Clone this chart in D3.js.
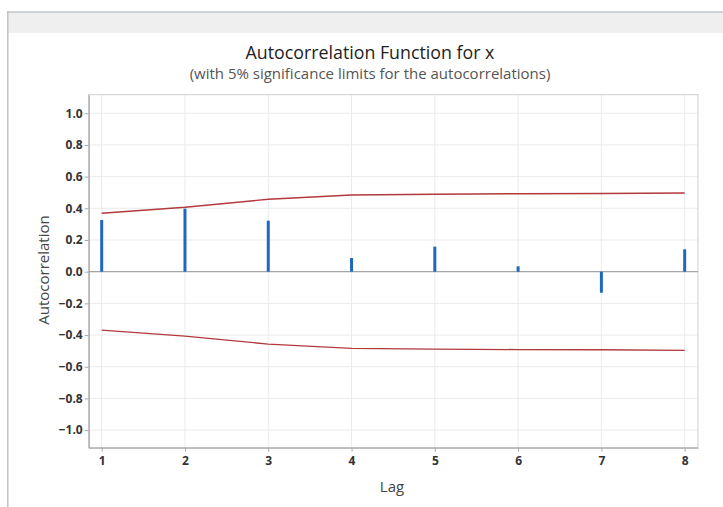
<!DOCTYPE html>
<html>
<head>
<meta charset="utf-8">
<script src="https://cdn.jsdelivr.net/npm/d3@7"></script>
<style>
  body { margin: 0; background: #fff; }
  svg { display: block; font-family: "Open Sans", "Noto Sans", sans-serif; }
</style>
</head>
<body>
<script>
var width = 723;
var height = 507;

// lag values and autocorrelations
var lags = [1, 2, 3, 4, 5, 6, 7, 8];
var acf = [0.326, 0.398, 0.322, 0.086, 0.158, 0.034, -0.133, 0.141];
// 5% significance limits (upper; lower is the negative)
var limits = [0.369, 0.407, 0.457, 0.484, 0.489, 0.492, 0.493, 0.497];
var yTicks = [-1.0, -0.8, -0.6, -0.4, -0.2, 0.0, 0.2, 0.4, 0.6, 0.8, 1.0];

var svg = d3.select("body").append("svg")
    .attr("width", width)
    .attr("height", height);

// window frame
svg.append("rect").attr("x", 0).attr("y", 0).attr("width", width).attr("height", height).attr("fill", "#ffffff");
svg.append("rect").attr("x", 8).attr("y", 12).attr("width", width - 8).attr("height", 21).attr("fill", "#efefef");
svg.append("line").attr("x1", 7).attr("x2", width).attr("y1", 12).attr("y2", 12)
    .attr("stroke", "#c3c7cb").attr("stroke-width", 1.6);
svg.append("line").attr("x1", 7.8).attr("x2", 7.8).attr("y1", 11).attr("y2", height)
    .attr("stroke", "#c3c7cb").attr("stroke-width", 1.6);

// plot area edges (not named "top": that clashes with window.top)
var pLeft = 88.7, pRight = 698, pTop = 94.7, pBottom = 447.7;

var x = d3.scaleLinear().domain([0.844, 8.16]).range([pLeft, pRight]);
var y = d3.scaleLinear().domain([-1.111, 1.117]).range([pBottom, pTop]);

// gridlines
svg.append("g").selectAll("line").data(yTicks).enter().append("line")
    .attr("x1", pLeft).attr("x2", pRight)
    .attr("y1", function(d) { return y(d); }).attr("y2", function(d) { return y(d); })
    .attr("stroke", "#ebebeb").attr("stroke-width", 1);
svg.append("g").selectAll("line").data(lags).enter().append("line")
    .attr("y1", pTop).attr("y2", pBottom)
    .attr("x1", function(d) { return x(d); }).attr("x2", function(d) { return x(d); })
    .attr("stroke", "#ebebeb").attr("stroke-width", 1);

// plot box
svg.append("rect").attr("x", pLeft).attr("y", pTop).attr("width", pRight - pLeft).attr("height", pBottom - pTop)
    .attr("fill", "none").attr("stroke", "#cfcfcf");

// zero line
svg.append("line").attr("x1", pLeft).attr("x2", pRight).attr("y1", y(0)).attr("y2", y(0))
    .attr("stroke", "#a6a6a6").attr("stroke-width", 1.2);

// axes
var yAxis = svg.append("g").attr("transform", "translate(" + pLeft + ",0)")
    .call(d3.axisLeft(y).tickValues(yTicks).tickFormat(d3.format(".1f")).tickSize(4).tickSizeOuter(0));
var xAxis = svg.append("g").attr("transform", "translate(0," + pBottom + ")")
    .call(d3.axisBottom(x).tickValues(lags).tickFormat(d3.format("d")).tickSize(4).tickSizeOuter(0));

[yAxis, xAxis].forEach(function(a) {
  a.select(".domain").attr("stroke", "#aaaaaa").attr("stroke-width", 1.3);
  a.selectAll(".tick line").attr("stroke", "#aaaaaa");
  a.selectAll(".tick text").attr("fill", "#333").attr("font-size", "12px").attr("font-weight", "bold")
      .attr("font-family", "'Open Sans', sans-serif");
});
yAxis.selectAll(".tick text").attr("x", -6);
xAxis.selectAll(".tick text").attr("y", 9);

// significance limits
var line = d3.line().x(function(d, i) { return x(lags[i]); }).y(function(d) { return y(d); });
svg.append("path").datum(limits).attr("d", line)
    .attr("fill", "none").attr("stroke", "#b2393c").attr("stroke-width", 1.4);
svg.append("path").datum(limits.map(function(d) { return -d; })).attr("d", line)
    .attr("fill", "none").attr("stroke", "#b2393c").attr("stroke-width", 1.4);

// bars
svg.append("g").selectAll("rect").data(acf).enter().append("rect")
    .attr("x", function(d, i) { return x(lags[i]) - 1.5; })
    .attr("y", function(d) { return Math.min(y(d), y(0)); })
    .attr("width", 3)
    .attr("height", function(d) { return Math.abs(y(d) - y(0)); })
    .attr("fill", "#1f68bb");

// titles
svg.append("text").attr("x", 370).attr("y", 59).attr("text-anchor", "middle")
    .attr("font-size", "17.8px").attr("fill", "#222")
    .text("Autocorrelation Function for x");
svg.append("text").attr("x", 370).attr("y", 79).attr("text-anchor", "middle")
    .attr("font-size", "15px").attr("fill", "#555")
    .text("(with 5% significance limits for the autocorrelations)");

svg.append("text").attr("x", 392).attr("y", 492).attr("text-anchor", "middle")
    .attr("font-size", "15px").attr("fill", "#444")
    .text("Lag");
svg.append("text").attr("transform", "translate(49,270) rotate(-90)").attr("text-anchor", "middle")
    .attr("font-size", "15px").attr("fill", "#444")
    .text("Autocorrelation");
</script>
</body>
</html>
